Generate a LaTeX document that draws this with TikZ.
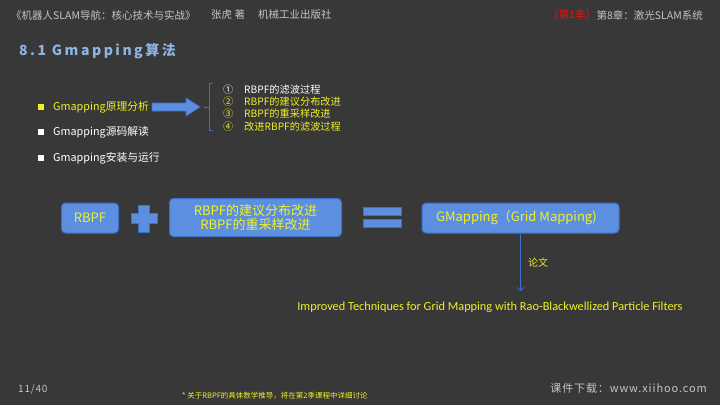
\documentclass[tikz,border=0pt]{standalone}
\usepackage{fontspec}
\setmainfont{Noto Sans CJK SC}
\newfontfamily\lat{Carlito}
\usetikzlibrary{arrows.meta}
\definecolor{bg}{RGB}{56,56,56}
\definecolor{hdr}{RGB}{196,196,196}
\definecolor{ttl}{RGB}{141,180,226}
\definecolor{ylw}{RGB}{240,240,40}
\definecolor{boxfill}{RGB}{92,143,224}
\definecolor{boxline}{RGB}{62,112,200}
\definecolor{redt}{RGB}{230,20,20}
\tikzset{
  txt/.style={inner sep=0pt, anchor=west},
  hdrtxt/.style={txt, text=hdr, font=\fontsize{10.5}{12}\selectfont},
  bul/.style={txt, font=\fontsize{10.8}{12}\selectfont},
  lst/.style={txt, font=\fontsize{10.2}{11}\selectfont},
  bluebox/.style={draw=boxline, line width=1pt, fill=boxfill, rounded corners=4pt, text=ylw, align=center, inner sep=0pt},
  blueshape/.style={draw=boxline, line width=0.8pt, fill=boxfill},
  conn/.style={draw=boxline, line width=0.8pt, -{Straight Barb[length=3pt,width=7pt]}},
}
\begin{document}
\begin{tikzpicture}[x=1pt,y=-1pt]
\fill[bg] (0,0) rectangle (720,405);
\useasboundingbox (0,0) rectangle (720,405);
% header
\node[hdrtxt] (h1) at (11,15) {《机器人SLAM导航：核心技术与实战》};
\node[hdrtxt] (h2) at (211,15) {张虎 著};
\node[hdrtxt] (h3) at (258,15) {机械工业出版社};
\node[txt, anchor=east, text=hdr, font=\fontsize{10.5}{12}\selectfont] (h5) at (703,15) {第8章：激光SLAM系统};
\node[txt, anchor=east, text=redt, font=\fontsize{10.5}{12}\selectfont] (h4) at (h5.west) {（第1季）};
% title
\node[txt, text=ttl, font=\fontsize{14}{16}\bfseries\addfontfeatures{LetterSpace=18}] (title) at (19,51) {8.1 Gmapping算法};
% bullets
\fill[ylw] (38,104) rectangle (44,110);
\fill[white] (38,129) rectangle (44,135);
\fill[white] (38,155) rectangle (44,161);
\node[bul, text=ylw] (b1) at (53,107) {Gmapping原理分析};
\node[bul, text=white] (b2) at (53,132) {Gmapping源码解读};
\node[bul, text=white] (b3) at (53,158) {Gmapping安装与运行};
% block arrow
\draw[blueshape] (152,103) -- (186,103) -- (186,98) -- (200,107) -- (186,116) -- (186,111) -- (152,111) -- cycle;
% brace
\draw[boxline, line width=0.8pt] (213,83) -- (209,83) -- (209,130) -- (213,130);
\draw[boxline, line width=0.8pt] (204,107) -- (209,107);
% list
\node[lst, text=white] (n1) at (223,90) {①};
\node[lst, text=ylw] (n2) at (223,101.5) {②};
\node[lst, text=ylw] (n3) at (223,114) {③};
\node[lst, text=ylw] (n4) at (223,127) {④};
\node[lst, text=white] (l1) at (244,90) {RBPF的滤波过程};
\node[lst, text=ylw] (l2) at (244,101.5) {RBPF的建议分布改进};
\node[lst, text=ylw] (l3) at (244,114) {RBPF的重采样改进};
\node[lst, text=ylw] (l4) at (244,127) {改进RBPF的滤波过程};
% boxes
\node[bluebox, minimum width=57pt, minimum height=30pt, font=\fontsize{13}{14}\selectfont] (rbpf) at (90,218) {RBPF};
\draw[blueshape] (131,213) -- (138,213) -- (138,205) -- (149,205) -- (149,213) -- (157,213) -- (157,223) -- (149,223) -- (149,232) -- (138,232) -- (138,223) -- (131,223) -- cycle;
\node[bluebox, minimum width=172pt, minimum height=38pt, font=\fontsize{13}{14.5}\selectfont] (mid) at (255.5,217.5) {RBPF的建议分布改进\\RBPF的重采样改进};
\draw[blueshape] (363,207) rectangle (401,215);
\draw[blueshape] (363,219.5) rectangle (401,227.5);
\node[bluebox, minimum width=197pt, minimum height=30pt, font=\fontsize{13}{14}\selectfont] (gm) at (520.5,218) {GMapping（Grid Mapping)\hspace{8pt}};
% paper
\node[txt, anchor=center, text=ylw, font=\lat\fontsize{12.3}{14}\selectfont] (paper) at (490,307) {Improved Techniques for Grid Mapping with Rao-Blackwellized Particle Filters};
\coordinate (pend) at (521,291);
\draw[conn] (gm.south) -- (gm.south |- pend);
\node[txt, text=ylw, font=\fontsize{10}{11}\selectfont] (lw) at (528,263) {论文};
% footer
\node[txt, text=hdr, font=\fontsize{10}{11}\selectfont\addfontfeatures{LetterSpace=8}] (pg) at (18,389) {11/40};
\node[txt, text=ylw, font=\fontsize{7.5}{8}\selectfont] (fn) at (182,396) {* 关于RBPF的具体数学推导，将在第2季课程中详细讨论};
\node[txt, anchor=east, text=hdr, font=\fontsize{11}{12}\selectfont\addfontfeatures{LetterSpace=8}] (dl) at (707,388) {课件下载：www.xiihoo.com};
\end{tikzpicture}
\end{document}
